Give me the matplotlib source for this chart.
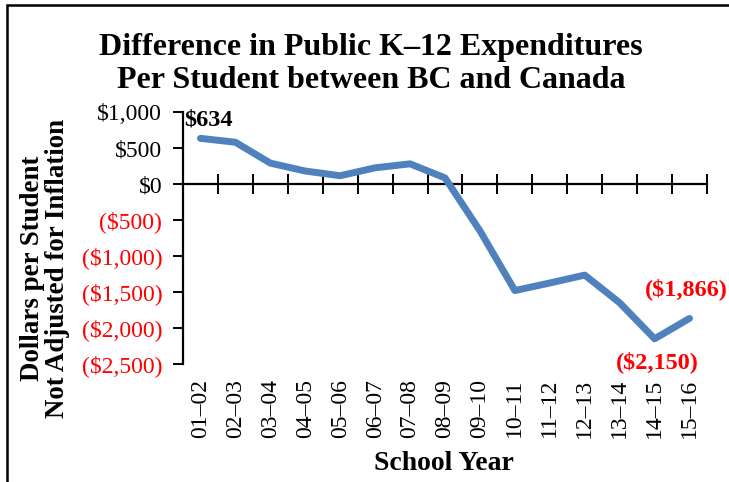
import matplotlib
matplotlib.use("Agg")
import matplotlib.pyplot as plt
from matplotlib.patches import Rectangle
from matplotlib.ticker import FuncFormatter, FixedLocator
import matplotlib.transforms as mtransforms

plt.rcParams['font.family'] = ['Liberation Serif', 'DejaVu Serif']

years = ["01–02", "02–03", "03–04", "04–05", "05–06", "06–07", "07–08", "08–09",
         "09–10", "10–11", "11–12", "12–13", "13–14", "14–15", "15–16"]
diff = [634, 580, 290, 180, 115, 225, 280, 85, -650, -1480, -1375, -1265, -1650, -2150, -1866]
y_ticks = [1000, 500, 0, -500, -1000, -1500, -2000, -2500]

W, H = 729, 482
fig = plt.figure(figsize=(W / 100, H / 100), dpi=100)
ax = fig.add_axes([183 / W, 1 - 364 / H, (707 - 183) / W, (364 - 112) / H])

x = list(range(len(years)))
ax.plot(x, diff, color='#4F81BD', lw=5, solid_capstyle='round', solid_joinstyle='round', zorder=3)

ax.set_xlim(-0.5, len(years) - 0.5)
ax.set_ylim(-2500, 1000)

for s in ['top', 'right']:
    ax.spines[s].set_visible(False)
ax.spines['left'].set_linewidth(1.6)
ax.spines['bottom'].set_position(('data', 0))
ax.spines['bottom'].set_linewidth(1.6)

ax.xaxis.set_major_locator(FixedLocator([i + 0.5 for i in x]))
ax.tick_params(axis='x', which='major', direction='inout', length=14, width=1.4, labelbottom=False)
ax.set_yticks(y_ticks)
ax.tick_params(axis='y', direction='out', length=7, width=1.4, labelsize=17, pad=8)


def fmt(v, pos=None):
    if v < 0:
        return "(${:,.0f})".format(-v)
    return "${:,.0f}".format(v)


ax.yaxis.set_major_formatter(FuncFormatter(fmt))
for lbl, v in zip(ax.get_yticklabels(), ax.get_yticks()):
    lbl.set_color('red' if v < 0 else 'black')

trans = mtransforms.blended_transform_factory(ax.transData, ax.transAxes)
for i, lab in zip(x, years):
    ax.text(i, -0.06, lab, transform=trans, rotation=90, ha='center', va='top', fontsize=17)

# data labels
ax.annotate(fmt(diff[0]), xy=(x[0], diff[0]), xytext=(-12, 6), textcoords='offset points',
            ha='left', va='bottom', fontsize=17.5, fontweight='bold', color='black')
ax.annotate(fmt(diff[13]), xy=(x[13], diff[13]), xytext=(2, -17), textcoords='offset points',
            ha='center', va='center', fontsize=17.5, fontweight='bold', color='red')
ax.annotate(fmt(diff[14]), xy=(x[14], diff[14]), xytext=(-2, 21), textcoords='offset points',
            ha='center', va='center', fontsize=17.5, fontweight='bold', color='red',
            arrowprops=dict(arrowstyle='-', color='#A6A6A6', lw=1.0, shrinkA=9, shrinkB=2))

fig.text(371 / W, 1 - 64 / H, "Difference in Public K–12 Expenditures\nPer Student between BC and Canada",
         ha='center', va='center', fontsize=23, fontweight='bold', linespacing=1.17)
fig.text(45 / W, 1 - 268 / H, "Dollars per Student\nNot Adjusted for Inflation", rotation=90,
         ha='center', va='center', fontsize=19.4, fontweight='bold', linespacing=0.95)
fig.text(444 / W, 1 - 463 / H, "School Year", ha='center', va='center', fontsize=20, fontweight='bold')

fig.add_artist(Rectangle((7 / W, -0.1), 1.2, 1 - 5 / H + 0.1, transform=fig.transFigure,
                         fill=False, edgecolor='black', lw=1.8, clip_on=False))

fig.savefig("out.png", dpi=100)
